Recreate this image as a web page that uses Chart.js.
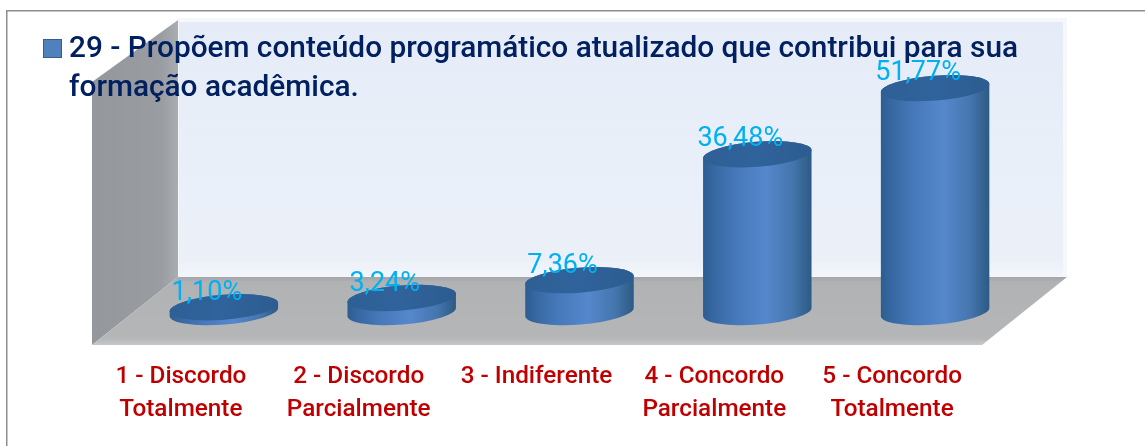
<!DOCTYPE html>
<html><head><meta charset="utf-8">
<style>html,body{margin:0;padding:0;background:#fff;overflow:hidden}canvas{display:block}</style>
<script src="https://cdn.jsdelivr.net/npm/chart.js@4"></script>
</head><body><canvas id="c" width="1145" height="446"></canvas>
<script>
const categories = [["1 - Discordo","Totalmente"],["2 - Discordo","Parcialmente"],["3 - Indiferente"],["4 - Concordo","Parcialmente"],["5 - Concordo","Totalmente"]];
const values = [1.10,3.24,7.36,36.48,51.77];
const valueLabels = ["1,10%","3,24%","7,36%","36,48%","51,77%"];
const seriesName = ["29 - Propõem conteúdo programático atualizado que contribui para sua","formação acadêmica."];
const FONT = 'Roboto';

function poly(ctx, pts, fill){ctx.beginPath();pts.forEach((p,i)=>i?ctx.lineTo(p[0],p[1]):ctx.moveTo(p[0],p[1]));ctx.closePath();ctx.fillStyle=fill;ctx.fill();}

const scene = {
  id:'scene',
  beforeDatasetsDraw(chart){
    const {ctx,chartArea:a}=chart; const L=a.left,R=a.right,B=a.bottom;
    const floorBack=B-35, floorFront=B+33, wallTop=20;
    const bx0=L+43, bx1=R+41, fx0=L-43, fx1=R-42;
    ctx.save();
    // frame
    ctx.fillStyle='#8e8e8e';ctx.fillRect(6,10,1139,1.5);ctx.fillRect(6,10,1.5,436);
    // back wall
    ctx.fillStyle='#f5f7fa';ctx.fillRect(bx0,wallTop-2,bx1-bx0+2,floorBack-wallTop+2);
    let g=ctx.createLinearGradient(0,wallTop,0,floorBack);
    g.addColorStop(0,'#e6ecf7');g.addColorStop(.5,'#e9eff9');g.addColorStop(.93,'#ebf0f8');g.addColorStop(1,'#f3f6fa');
    ctx.fillStyle=g;ctx.fillRect(bx0+1,wallTop+2,bx1-bx0-3,floorBack-wallTop-2);
    // left wall
    g=ctx.createLinearGradient(fx0,0,bx0,0);
    g.addColorStop(0,'#94979b');g.addColorStop(.8,'#999ca1');g.addColorStop(1,'#a9acb1');
    poly(ctx,[[bx0,wallTop],[fx0,82],[fx0,floorFront],[bx0,floorBack]],g);
    // floor
    g=ctx.createLinearGradient(0,floorBack,0,floorFront);
    g.addColorStop(0,'#a3a5a8');g.addColorStop(.08,'#b1b2b4');g.addColorStop(.9,'#b5b6b8');g.addColorStop(1,'#c6c7c9');
    poly(ctx,[[bx0,floorBack],[bx1+2,floorBack],[fx1,floorFront],[fx0,floorFront]],g);
    ctx.restore();
  },
  beforeDatasetDraw(chart,args){
    const {ctx}=chart; const meta=args.meta; const tilt=-4.5*Math.PI/180; const ry=12.5;
    meta.data.forEach(bar=>{
      const rx=bar.width/2;
      ctx.save();
      const g=ctx.createLinearGradient(bar.x-rx,0,bar.x+rx,0);
      g.addColorStop(0,'#2b5c92');g.addColorStop(.08,'#35669f');g.addColorStop(.3,'#4679ba');g.addColorStop(.58,'#5587cc');g.addColorStop(.82,'#4676ae');g.addColorStop(.95,'#33628f');g.addColorStop(1,'#2c5a88');
      ctx.beginPath();
      ctx.ellipse(bar.x,bar.base,rx,ry,tilt,Math.PI,0,true);
      ctx.ellipse(bar.x,bar.y,rx,ry,tilt,0,Math.PI,true);
      ctx.closePath();
      ctx.fillStyle=g;ctx.fill();
      const t=ctx.createLinearGradient(bar.x-rx,0,bar.x+rx,0);
      t.addColorStop(0,'#2e6096');t.addColorStop(.5,'#30639b');t.addColorStop(1,'#2c5c90');
      ctx.beginPath();ctx.ellipse(bar.x,bar.y,rx,ry,tilt,0,Math.PI*2);ctx.fillStyle=t;ctx.fill();
      ctx.restore();
    });
    return false;
  },
  afterDraw(chart){
    const {ctx}=chart; const meta=chart.getDatasetMeta(0);
    ctx.save();
    // value labels
    ctx.font='27px '+FONT;ctx.fillStyle='#00b0f0';ctx.textAlign='center';ctx.textBaseline='middle';
    meta.data.forEach((bar,i)=>{ctx.fillText(valueLabels[i],bar.x-17,bar.y-14-values[i]*0.02);});
    // legend
    ctx.fillStyle='#4f81bd';ctx.strokeStyle='#385d8a';ctx.lineWidth=1;
    ctx.fillRect(43.5,39.5,18,18);ctx.strokeRect(43.5,39.5,18,18);
    ctx.font='500 29.8px '+FONT;ctx.fillStyle='#002060';ctx.textAlign='left';ctx.textBaseline='alphabetic';
    ctx.fillText(seriesName[0],69,57);
    ctx.fillText(seriesName[1],69,96);
    ctx.restore();
  }
};

new Chart(document.getElementById('c'),{
  type:'bar',
  data:{labels:categories,datasets:[{label:seriesName.join(' '),data:values,backgroundColor:'#4f81bd',categoryPercentage:1,barPercentage:0.612}]},
  plugins:[scene],
  options:{
    responsive:false,animation:false,
    layout:{padding:{left:135,right:121,top:72,bottom:0}},
    plugins:{legend:{display:false},tooltip:{enabled:false},title:{display:false}},
    scales:{
      y:{display:false,min:0,max:55.5},
      x:{
        grid:{display:false,drawTicks:false},border:{display:false},
        afterFit(s){s.height=134;},
        ticks:{color:'#c00000',font:{family:FONT,size:24.3,weight:'500',lineHeight:1.33},padding:49,labelOffset:-43,maxRotation:0,minRotation:0,autoSkip:false}
      }
    }
  }
});
</script></body></html>
